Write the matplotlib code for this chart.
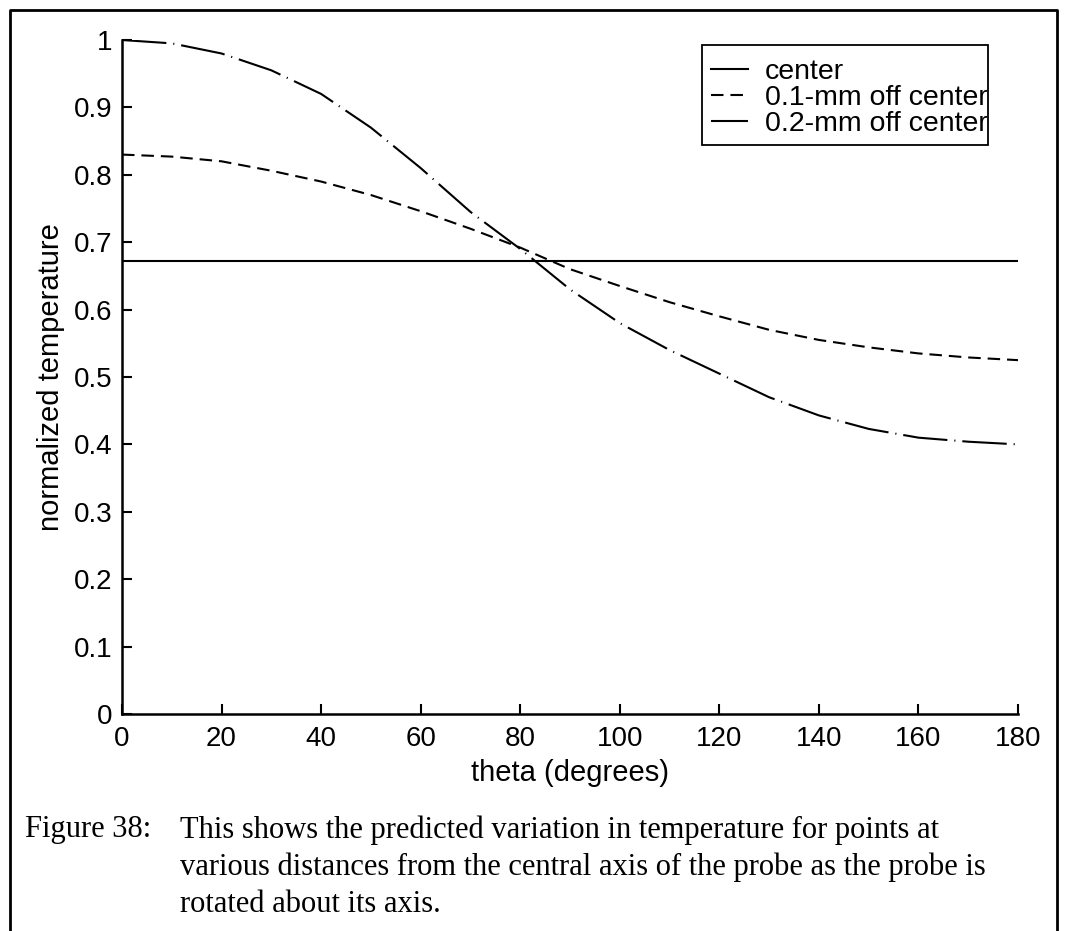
import matplotlib
matplotlib.use('Agg')
import matplotlib.pyplot as plt
from matplotlib.lines import Line2D
from matplotlib.patches import Rectangle
from matplotlib.transforms import Bbox, TransformedBbox

plt.rcParams['font.family'] = ['Liberation Sans', 'DejaVu Sans']
plt.rcParams['lines.scale_dashes'] = False

# values
theta = [0, 10, 20, 30, 40, 50, 60, 70, 80, 90, 100, 110, 120, 130, 140, 150, 160, 170, 180]
center = [0.672] * len(theta)
off_01 = [0.830, 0.827, 0.820, 0.806, 0.790, 0.770, 0.746, 0.720, 0.692, 0.660, 0.635,
          0.611, 0.590, 0.570, 0.555, 0.544, 0.535, 0.529, 0.525]
off_02 = [1.000, 0.995, 0.980, 0.955, 0.920, 0.870, 0.810, 0.745, 0.690, 0.630, 0.580,
          0.540, 0.505, 0.470, 0.443, 0.423, 0.410, 0.404, 0.400]
labels = ['center', '0.1-mm off center', '0.2-mm off center']
xticks = [0, 20, 40, 60, 80, 100, 120, 140, 160, 180]
yticks = [0, 0.1, 0.2, 0.3, 0.4, 0.5, 0.6, 0.7, 0.8, 0.9, 1]
caption_head = 'Figure 38:'
caption_lines = ['This shows the predicted variation in temperature for points at',
                 'various distances from the central axis of the probe as the probe is',
                 'rotated about its axis.']

W, H = 1065, 931
fig = plt.figure(figsize=(W / 100, H / 100), dpi=100)
ax = fig.add_axes([122 / W, 1 - 714 / H, 896 / W, 674 / H])

ax.plot(theta, center, color='black', lw=1.5, ls='-', label=labels[0])
ax.plot(theta, off_01, color='black', lw=1.5, ls=(0, (9, 5)), label=labels[1])
ax.plot(theta, off_02, color='black', lw=1.5, ls=(0, (32, 5, 0.8, 5)), label=labels[2])

ax.set_xlim(0, 180)
ax.set_ylim(0, 1)
ax.set_xticks(xticks)
ax.set_yticks(yticks)
ax.set_xticklabels([str(t) for t in xticks])
ax.set_yticklabels(['0'] + [f'{v:g}' for v in yticks[1:]])
ax.tick_params(direction='in', length=7, width=1.5, labelsize=20)
ax.tick_params(axis='x', pad=9)
ax.tick_params(axis='y', pad=7)
ax.spines['top'].set_visible(False)
ax.spines['right'].set_visible(False)
ax.spines['left'].set_linewidth(1.8)
ax.spines['bottom'].set_linewidth(1.8)

ax.set_xlabel('theta (degrees)', fontsize=21, labelpad=5)
ax.set_ylabel('normalized temperature', fontsize=21, labelpad=6)

# legend: text runs into the frame and gets cut off, like the original
leg = ax.legend(loc='upper left', bbox_to_anchor=(711 / W, 1 - 59 / H),
                bbox_transform=fig.transFigure, fontsize=20.5, frameon=False,
                handlelength=1.3, handletextpad=0.6, labelspacing=0.0,
                borderpad=0, borderaxespad=0)
box = Rectangle((702 / W, 1 - 145 / H), 286 / W, 100 / H, transform=fig.transFigure,
                fill=False, edgecolor='black', lw=1.3)
fig.add_artist(box)
clip = TransformedBbox(Bbox.from_extents(702 / W, 1 - 145 / H, 987 / W, 1 - 45 / H),
                       fig.transFigure)
for t in leg.get_texts():
    t.set_clip_box(clip)
    t.set_clip_on(True)

# caption in serif type
fig.text(25 / W, 1 - 830 / H, caption_head, fontsize=22,
         family='Liberation Serif', va='center', ha='left')
for i, line in enumerate(caption_lines):
    fig.text(180 / W, 1 - (830 + 37 * i) / H, line, fontsize=22,
             family='Liberation Serif', va='center', ha='left')

# outer frame of the scanned page
fx = [10 / W, 10 / W, 1057 / W, 1057 / W]
fy = [0.0, 1 - 10 / H, 1 - 10 / H, 0.0]
fig.add_artist(Line2D(fx, fy, color='black', lw=2, transform=fig.transFigure))

plt.savefig('out.png', dpi=100)
